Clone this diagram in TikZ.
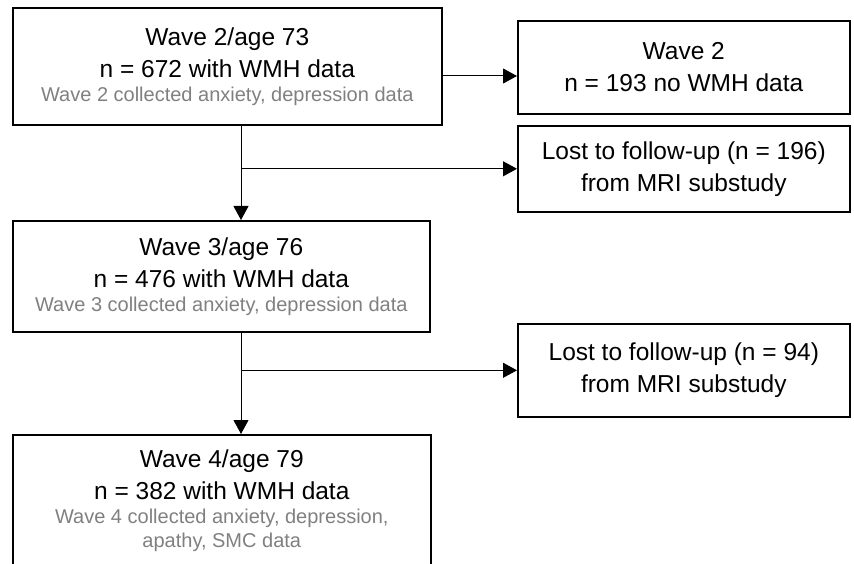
\documentclass[tikz,border=0pt]{standalone}
\usepackage{fontspec}
\setmainfont{Liberation Sans}
\usepackage{tikz}
\usetikzlibrary{arrows.meta, calc, positioning}
\definecolor{notegray}{RGB}{128,128,128}
\newcommand{\wavenote}[1]{{\color{notegray}\fontsize{20}{21}\selectfont #1}}

\begin{document}
\begin{tikzpicture}[x=1pt, y=-1pt,
	wavebox/.style={draw, line width=1.6pt, anchor=north west, align=center, inner sep=0pt, font=\fontsize{24.5}{32}\selectfont},
	lostbox/.style={draw, line width=1.6pt, anchor=north west, align=center, inner sep=0pt, minimum width=332pt, font=\fontsize{24.5}{32}\selectfont},
	flow/.style={line width=1pt, -{Triangle[length=14pt, width=15pt]}}]
\useasboundingbox (0,0) rectangle (854,564);
\clip (0,0) rectangle (854,564);
\pgfmathsetmacro{\trunkX}{241}

% Draw wave boxes
\node[wavebox, minimum width=429pt, minimum height=117pt] (wtwo) at (12,7) {Wave 2/age 73\\ n = 672 with WMH data\\[-8pt] \wavenote{Wave 2 collected anxiety, depression data}};
\node[wavebox, minimum width=417pt, minimum height=111pt] (wthree) at (12,220) {Wave 3/age 76\\ n = 476 with WMH data\\[-8pt] \wavenote{Wave 3 collected anxiety, depression data}};
\node[wavebox, minimum width=418pt, minimum height=142pt, text depth=14pt] (wfour) at (12,434) {Wave 4/age 79\\ n = 382 with WMH data\\[-8pt] \wavenote{Wave 4 collected anxiety, depression,}\\[-8pt] \wavenote{apathy, SMC data}};

% Draw exclusion boxes
\node[lostbox, minimum height=93pt] (nowmh) at (517,20) {Wave 2\\ n = 193 no WMH data};
\node[lostbox, minimum height=86pt] (lostone) at (517,125) {Lost to follow-up (n = 196)\\ from MRI substudy};
\node[lostbox, minimum height=93pt] (losttwo) at (517,323) {Lost to follow-up (n = 94)\\ from MRI substudy};

% Draw arrows
\coordinate (trunk) at (\trunkX,0);
\coordinate (side) at (0,76);
\draw[flow] (wtwo.east |- side) -- (nowmh.west |- side);
\draw[flow] (wtwo.south -| trunk) -- (wthree.north -| trunk);
\draw[flow] (lostone.west -| trunk) -- (lostone.west);
\draw[flow] (wthree.south -| trunk) -- (wfour.north -| trunk);
\draw[flow] (losttwo.west -| trunk) -- (losttwo.west);
\end{tikzpicture}
\end{document}
